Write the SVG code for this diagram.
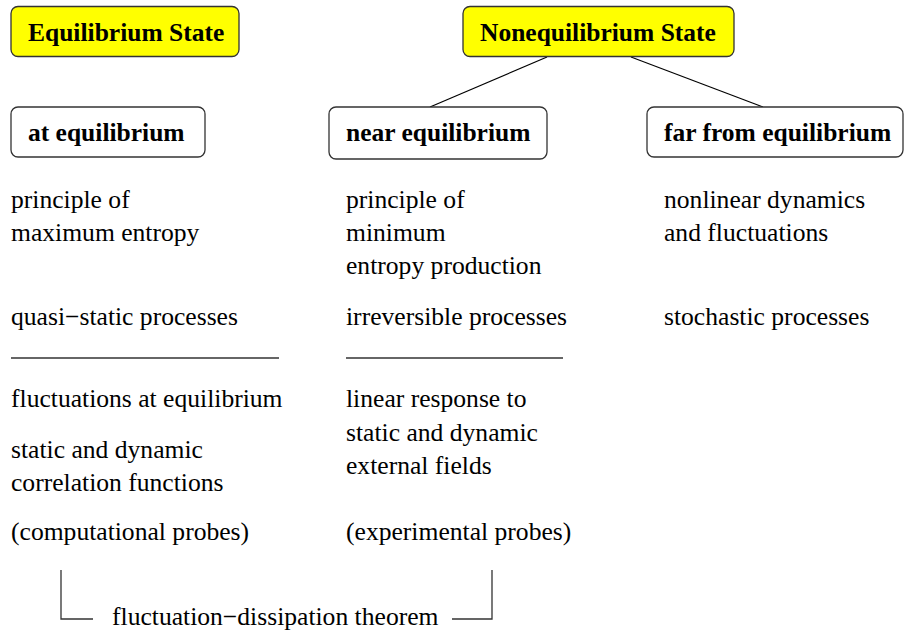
<svg xmlns="http://www.w3.org/2000/svg" width="904" height="631" viewBox="0 0 904 631">
<style>
.box{fill:#fff;stroke:#333;stroke-width:1.3}
.state{fill:#ffff00;stroke:#333;stroke-width:1.3}
.t{font-family:"Liberation Serif","Times New Roman",serif;font-size:25.6px;fill:#000}
.b{font-family:"Liberation Serif","Times New Roman",serif;font-size:25.5px;font-weight:bold;fill:#000}
.ln{stroke:#000;stroke-width:1.2;fill:none}
.rule{stroke:#333;stroke-width:1.3;fill:none}
</style>
<rect width="904" height="631" fill="#fff"/>
<g id="connectors">
<line class="ln" x1="547" y1="57" x2="430" y2="107"/>
<line class="ln" x1="631" y1="57" x2="763" y2="107"/>
<path class="rule" d="M61,570 V619 H93"/>
<path class="rule" d="M452,619 H492 V570"/>
</g>
<g id="equilibrium-state">
<rect class="state" x="11" y="6.5" width="228" height="50" rx="7"/>
<text class="b" x="28" y="41">Equilibrium State</text>
</g>
<g id="nonequilibrium-state">
<rect class="state" x="463" y="6.5" width="271" height="50" rx="7"/>
<text class="b" x="480" y="41">Nonequilibrium State</text>
</g>
<g id="at-equilibrium">
<rect class="box" x="11" y="107" width="194" height="50" rx="7"/>
<text class="b" x="28" y="141">at equilibrium</text>
</g>
<g id="near-equilibrium">
<rect class="box" x="329" y="107" width="218" height="52" rx="7"/>
<text class="b" x="346" y="141">near equilibrium</text>
</g>
<g id="far-from-equilibrium">
<rect class="box" x="647" y="107" width="256" height="50" rx="7"/>
<text class="b" x="664" y="141">far from equilibrium</text>
</g>
<g id="col-left">
<text class="t" x="11" y="208">principle of</text>
<text class="t" x="11" y="241">maximum entropy</text>
<text class="t" x="11" y="325">quasi−static processes</text>
<line class="rule" x1="11" y1="358" x2="279" y2="358"/>
<text class="t" x="11" y="407">fluctuations at equilibrium</text>
<text class="t" x="11" y="458">static and dynamic</text>
<text class="t" x="11" y="491">correlation functions</text>
<text class="t" x="11" y="540">(computational probes)</text>
</g>
<g id="col-middle">
<text class="t" x="346" y="208">principle of</text>
<text class="t" x="346" y="241">minimum</text>
<text class="t" x="346" y="274">entropy production</text>
<text class="t" x="346" y="325">irreversible processes</text>
<line class="rule" x1="346" y1="358" x2="563" y2="358"/>
<text class="t" x="346" y="407">linear response to</text>
<text class="t" x="346" y="441">static and dynamic</text>
<text class="t" x="346" y="474">external fields</text>
<text class="t" x="346" y="540">(experimental probes)</text>
</g>
<g id="col-right">
<text class="t" x="664" y="208">nonlinear dynamics</text>
<text class="t" x="664" y="241">and fluctuations</text>
<text class="t" x="664" y="325">stochastic processes</text>
</g>
<g id="fdt">
<text class="t" x="112" y="625">fluctuation−dissipation theorem</text>
</g>
</svg>
